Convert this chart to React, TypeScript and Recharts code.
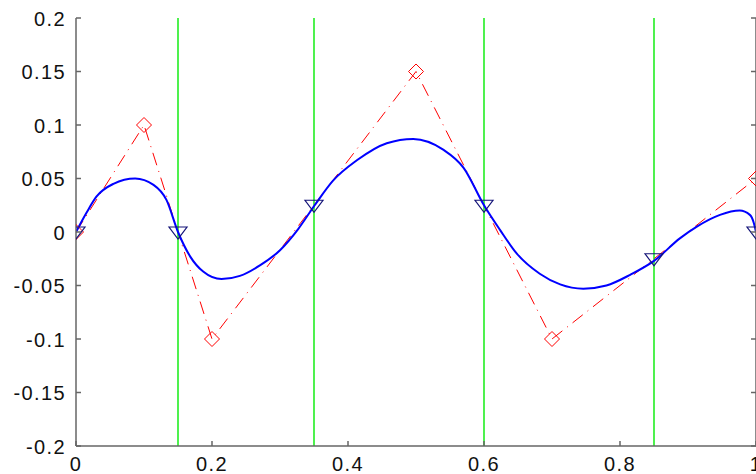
import { LineChart, Line, XAxis, YAxis, ReferenceLine } from 'recharts';

// smooth blue curve
const curveX = [0, 0.015, 0.03, 0.055, 0.087, 0.114, 0.133, 0.15, 0.168, 0.187, 0.214, 0.241, 0.271, 0.3, 0.327, 0.351, 0.378, 0.413, 0.457, 0.496, 0.54, 0.57, 0.6, 0.6235, 0.648, 0.682, 0.712, 0.746, 0.78, 0.815, 0.85, 0.888, 0.913, 0.947, 0.976, 0.991, 0.997, 1];
const curveY = [0, 0.0175, 0.033, 0.045, 0.05, 0.044, 0.03, 0, -0.023, -0.037, -0.044, -0.041, -0.031, -0.017, 0.003, 0.025, 0.048, 0.067, 0.083, 0.087, 0.077, 0.06, 0.025, 0.002, -0.02, -0.039, -0.049, -0.053, -0.05, -0.04, -0.027, -0.006, 0.005, 0.016, 0.02, 0.016, 0.008, 0];

// red dash-dot with diamonds
const ctrlX = [0, 0.1, 0.2, 0.5, 0.7, 1];
const ctrlY = [0, 0.1, -0.1, 0.15, -0.1, 0.05];

// triangle markers
const knotX = [0, 0.15, 0.35, 0.6, 0.85, 1];
const knotY = [0, 0, 0.025, 0.025, -0.025, 0];

// green vertical lines
const greenX = [0.15, 0.35, 0.6, 0.85];

const xTicks = [0, 0.2, 0.4, 0.6, 0.8, 1];
const yTicks = [-0.2, -0.15, -0.1, -0.05, 0, 0.05, 0.1, 0.15, 0.2];

const curveData = curveX.map((x, i) => ({ x, y: curveY[i] }));
const ctrlData = ctrlX.map((x, i) => ({ x, y: ctrlY[i] }));
const knotData = knotX.map((x, i) => ({ x, y: knotY[i] }));

const axisColor = '#666666';
const font = {
  fontFamily: '"Liberation Sans", Arial, sans-serif',
  fontSize: 20,
  letterSpacing: 1.4,
  fill: '#111111',
};

const BottomTick = (props: any) => {
  const { x, y, payload } = props;
  return (
    <g>
      <line x1={x} y1={y} x2={x} y2={y - 5} stroke={axisColor} strokeWidth={1.5} />
      <text x={x} y={y + 25} textAnchor='middle' {...font}>
        {String(payload.value)}
      </text>
    </g>
  );
};

const TopTick = (props: any) => {
  const { x, y } = props;
  return <line x1={x} y1={y} x2={x} y2={y + 5} stroke={axisColor} strokeWidth={1.5} />;
};

const LeftTick = (props: any) => {
  const { x, y, payload } = props;
  return (
    <g>
      <line x1={x} y1={y} x2={x + 5} y2={y} stroke={axisColor} strokeWidth={1.5} />
      <text x={x - 10} y={y + 7.5} textAnchor='end' {...font}>
        {String(payload.value)}
      </text>
    </g>
  );
};

const RightTick = (props: any) => {
  const { x, y } = props;
  return <line x1={x} y1={y} x2={x - 5} y2={y} stroke={axisColor} strokeWidth={1.5} />;
};

const Diamond = (props: any) => {
  const { cx, cy, index } = props;
  if (cx == null || cy == null) return <g key={index} />;
  const r = 7.5;
  return (
    <path
      key={index}
      d={`M${cx},${cy - r}L${cx + r},${cy}L${cx},${cy + r}L${cx - r},${cy}Z`}
      fill='none'
      stroke='#ff0000'
      strokeWidth={1}
    />
  );
};

const Triangle = (props: any) => {
  const { cx, cy, index } = props;
  if (cx == null || cy == null) return <g key={index} />;
  const w = 9;
  return (
    <path
      key={index}
      d={`M${cx - w},${cy - 5}L${cx + w},${cy - 5}L${cx},${cy + 7}Z`}
      fill='none'
      stroke='#141478'
      strokeWidth={1.2}
    />
  );
};

export default function App() {
  return (
    <div
      style={{
        position: 'absolute',
        left: 0,
        top: 0,
        width: 756,
        height: 474,
        overflow: 'hidden',
        background: '#ffffff',
      }}
    >
      <LineChart width={770} height={480} margin={{ top: 18, right: 0, bottom: 0, left: 0 }}>
        <XAxis
          dataKey='x'
          type='number'
          domain={[0, 1]}
          ticks={xTicks}
          interval={0}
          height={34}
          tickSize={0}
          tickMargin={0}
          tickLine={false}
          axisLine={{ stroke: axisColor, strokeWidth: 1.5 }}
          tick={BottomTick}
          allowDataOverflow
        />
        <XAxis
          xAxisId='top'
          orientation='top'
          type='number'
          domain={[0, 1]}
          ticks={xTicks}
          interval={0}
          height={0}
          tickSize={0}
          tickMargin={0}
          tickLine={false}
          axisLine={{ stroke: axisColor, strokeWidth: 1.5 }}
          tick={TopTick}
          allowDataOverflow
        />
        <YAxis
          type='number'
          domain={[-0.2, 0.2]}
          ticks={yTicks}
          interval={0}
          width={76}
          tickSize={0}
          tickMargin={0}
          tickLine={false}
          axisLine={{ stroke: axisColor, strokeWidth: 1.5 }}
          tick={LeftTick}
          allowDataOverflow
        />
        <YAxis
          yAxisId='right'
          orientation='right'
          type='number'
          domain={[-0.2, 0.2]}
          ticks={yTicks}
          interval={0}
          width={14}
          tickSize={0}
          tickMargin={0}
          tickLine={false}
          axisLine={{ stroke: axisColor, strokeWidth: 1.5 }}
          tick={RightTick}
          allowDataOverflow
        />
        {greenX.map((gx) => (
          <ReferenceLine key={gx} x={gx} stroke='#22ee22' strokeWidth={1.6} />
        ))}
        <Line
          data={ctrlData}
          dataKey='y'
          type='linear'
          stroke='#ff0000'
          strokeWidth={1}
          strokeDasharray='13 6 1 6'
          dot={Diamond}
          activeDot={false}
          isAnimationActive={false}
        />
        <Line
          data={curveData}
          dataKey='y'
          type='monotone'
          stroke='#0000ff'
          strokeWidth={2}
          dot={false}
          activeDot={false}
          isAnimationActive={false}
        />
        <Line
          data={knotData}
          dataKey='y'
          type='linear'
          stroke='none'
          dot={Triangle}
          activeDot={false}
          isAnimationActive={false}
        />
      </LineChart>
    </div>
  );
}
